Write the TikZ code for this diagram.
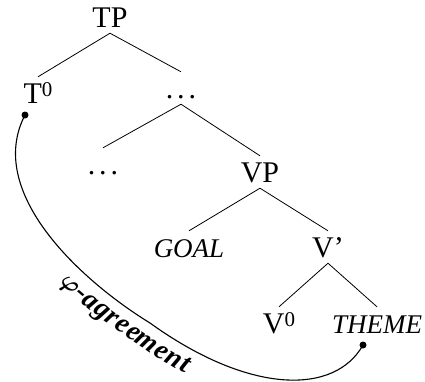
\documentclass[tikz,border=0pt]{standalone}
\usepackage{fontspec}
\setmainfont{Liberation Serif}
\usetikzlibrary{decorations.text}
\newcommand{\supz}{\raisebox{7pt}{\fontsize{21}{24}\selectfont 0}}
\newcommand{\tdots}{.\kern4pt.\kern4pt.}
\begin{document}
\begin{tikzpicture}[x=1pt,y=-1pt,
  lab/.style={font=\fontsize{30}{36}\selectfont, inner xsep=2pt, inner ysep=6pt, text height=20pt, text depth=0pt, anchor=base},
  ilab/.style={lab, font=\fontsize{27}{32}\selectfont\itshape},
  branch/.style={line width=0.8pt},
  agree/.style={line width=1.1pt},
  dotmark/.style={fill, circle, inner sep=0pt, minimum size=7pt}]
\useasboundingbox (0,0) rectangle (425,381);
\node[lab] (TP) at (110,27) {TP};
\node[lab] (T0) at (38,103) {T\supz};
\node[lab] (d1) at (181,98) {\tdots};
\node[lab] (d2) at (103,174) {\tdots};
\node[lab] (VP) at (260,182) {VP};
\node[ilab] (GOAL) at (189,257) {GOAL};
\node[lab] (Vb) at (328,257) {V’};
\node[lab] (V0) at (279,333) {V\supz};
\node[ilab] (THEME) at (377,333) {THEME};
\draw[branch] (TP.south) -- (T0.north);
\draw[branch] (TP.south) -- (d1.north);
\draw[branch] (d1.south) -- (d2.north);
\draw[branch] (d1.south) -- (VP.north);
\draw[branch] (VP.south) -- (GOAL.north);
\draw[branch] (VP.south) -- (Vb.north);
\draw[branch] (Vb.south) -- (V0.north);
\draw[branch] (Vb.south) -- (THEME.north);
\node[dotmark] (Tdot) at (25,115) {};
\node[dotmark] (Edot) at (363,345) {};
\coordinate (mid) at (150,323);
\draw[agree, postaction={decorate}, decoration={text along path, raise=-24pt,
    text align={left indent=170pt},
    text={|\fontsize{28}{32}\selectfont\bfseries\itshape\boldmath|{$\varphi$}-agreement}}]
  (Tdot.center) .. controls (-15,192) and (80,280) .. (mid)
  .. controls (250,395) and (335,395) .. (Edot.center);
\end{tikzpicture}
\end{document}
